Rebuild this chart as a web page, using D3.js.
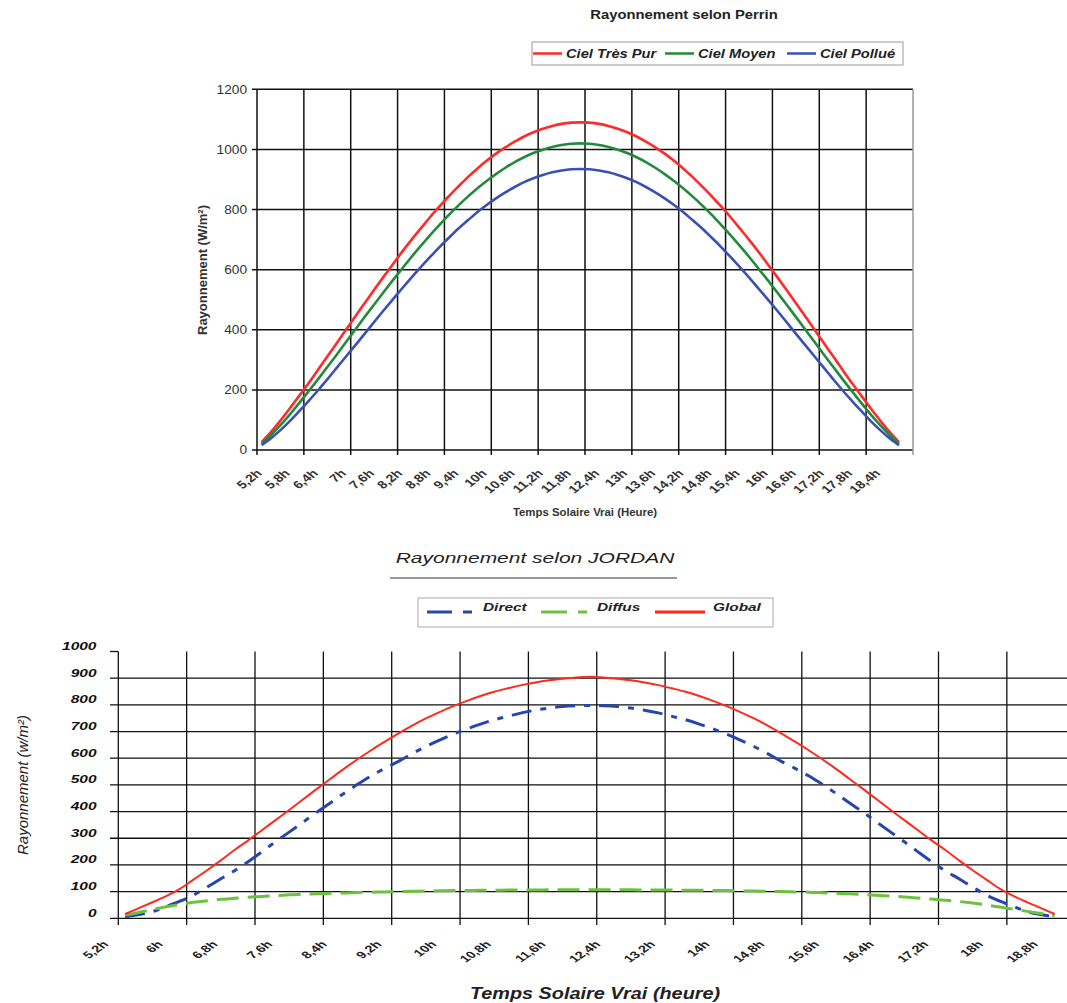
<!DOCTYPE html>
<html><head><meta charset="utf-8">
<script src="https://cdn.jsdelivr.net/npm/d3@7"></script>
<style>
body{margin:0;background:#fff}
text{font-family:"Liberation Sans",Arial,sans-serif;fill:#1a1a1a}
</style>
</head><body>
<svg id="c" width="1067" height="1003"></svg>
<script>
// ---------- DATA ----------
const hours = [5.2,5.4,5.6,5.8,6,6.2,6.4,6.6,6.8,7,7.2,7.4,7.6,7.8,8,8.2,8.4,8.6,8.8,9,9.2,9.4,9.6,9.8,10,10.2,10.4,10.6,10.8,11,11.2,11.4,11.6,11.8,12,12.2,12.4,12.6,12.8,13,13.2,13.4,13.6,13.8,14,14.2,14.4,14.6,14.8,15,15.2,15.4,15.6,15.8,16,16.2,16.4,16.6,16.8,17,17.2,17.4,17.6,17.8,18,18.2,18.4,18.6,18.8];

// Perrin (W/m²)
const cielTresPur = [26,60,98,138,180,222,266,311,355,400,445,489,533,576,618,660,700,738,776,811,845,877,908,936,962,986,1007,1026,1043,1057,1069,1078,1085,1089,1090,1089,1085,1078,1069,1057,1043,1026,1007,986,962,936,908,877,845,811,776,738,700,660,618,576,533,489,445,400,355,311,266,222,180,138,98,60,26];
const cielMoyen = [21,50,83,118,156,195,235,276,317,359,401,443,484,525,565,604,643,680,716,750,783,814,843,870,895,918,939,958,974,988,999,1008,1015,1019,1020,1019,1015,1008,999,988,974,958,939,918,895,870,843,814,783,750,716,680,643,604,565,525,484,443,401,359,317,276,235,195,156,118,83,50,21];
const cielPollue = [16,39,66,96,129,163,198,235,273,311,349,387,426,464,501,538,574,609,643,676,707,737,764,791,815,837,857,875,891,904,915,924,930,934,935,934,930,924,915,904,891,875,857,837,815,791,764,737,707,676,643,609,574,538,501,464,426,387,349,311,273,235,198,163,129,96,66,39,16];

// Jordan (W/m²)
const direct = [6,14,25,44,64,87,117,148,178,212,249,287,323,360,397,432,468,502,534,562,588,617,644,668,690,710,728,744,757,770,780,788,794,797,798,797,794,788,780,770,757,744,728,710,690,668,644,617,588,562,534,502,468,432,397,360,323,287,249,212,178,148,117,87,64,44,25,14,6];
const diffus = [12,22,33,43,52,60,66,71,75,79,82,85,88,90,92,94,95,97,98,99,100,101,102,103,104,104,105,105,106,106,106,107,107,107,107,107,107,107,106,106,106,105,105,104,104,103,102,101,100,99,98,96,94,92,89,86,83,80,76,72,68,63,57,50,42,34,26,18,10];
const global = [16,38,60,83,110,145,180,217,256,292,330,368,406,445,484,522,560,596,630,662,693,722,749,773,795,815,833,849,862,874,884,892,898,903,905,903,898,892,884,874,862,849,833,815,795,773,749,722,693,662,630,596,560,522,484,445,406,368,330,292,256,217,180,145,110,83,60,38,16];

const perrinTicksY = [0,200,400,600,800,1000,1200];
const jordanTicksY = [0,100,200,300,400,500,600,700,800,900,1000];
const perrinTickLabels = ["5,2h","5,8h","6,4h","7h","7,6h","8,2h","8,8h","9,4h","10h","10,6h","11,2h","11,8h","12,4h","13h","13,6h","14,2h","14,8h","15,4h","16h","16,6h","17,2h","17,8h","18,4h"];
const jordanTickLabels = ["5,2h","6h","6,8h","7,6h","8,4h","9,2h","10h","10,8h","11,6h","12,4h","13,2h","14h","14,8h","15,6h","16,4h","17,2h","18h","18,8h"];

const perrinSeries = [
  {name:"Ciel Très Pur", values:cielTresPur, color:"#ff2b2b"},
  {name:"Ciel Moyen", values:cielMoyen, color:"#238a3c"},
  {name:"Ciel Pollué", values:cielPollue, color:"#3a50b4"}
];
const jordanSeries = [
  {name:"Direct", values:direct, color:"#2446ae", dash:"20,9,6,9", w:3},
  {name:"Diffus", values:diffus, color:"#6cc23e", dash:"22,9", w:3},
  {name:"Global", values:global, color:"#ff2a1c", dash:null, w:2}
];

// ---------- HELPERS ----------
const svg = d3.select("#c");
const nCat = 70; // axis categories (last one empty)
const idx = h => Math.round((h - 5.2) / 0.2);
const parseLab = s => parseFloat(s.replace("h","").replace(",", "."));

function txt(g, x, y, s, o) {
  o = o || {};
  let tr = `translate(${x},${y})`;
  if (o.sx) tr += ` scale(${o.sx},1)`;
  if (o.rot) tr += ` rotate(${o.rot})`;
  return g.append("text").attr("transform", tr)
    .attr("text-anchor", o.anchor || "start")
    .attr("dy", o.dy || 0)
    .style("font-size", (o.size || 12) + "px")
    .style("font-weight", o.bold ? "bold" : "normal")
    .style("font-style", o.italic ? "italic" : "normal")
    .style("fill", o.fill || "#1a1a1a")
    .text(s);
}

// ---------- CHART 1 : PERRIN ----------
(function(){
  const g = svg.append("g");
  const x = d3.scaleBand().domain(d3.range(nCat)).range([257, 913]);
  const bw = x.bandwidth();
  const xc = i => x(i) + bw / 2;
  const y = d3.scaleLinear().domain([0, 1200]).range([450, 89.3]);

  // horizontal grid + y ticks
  perrinTicksY.forEach(v => {
    g.append("line").attr("x1", 252).attr("x2", 913).attr("y1", y(v)).attr("y2", y(v))
      .attr("stroke", "#111").attr("stroke-width", 1.5);
    txt(g, 247, y(v), String(v), {anchor:"end", dy:"0.36em", size:12, sx:1.14, fill:"#333"});
  });
  // vertical grid every 5 categories
  for (let k = 0; k < 14; k++) {
    const xx = x(k * 5);
    g.append("line").attr("x1", xx).attr("x2", xx).attr("y1", y(1200)).attr("y2", 455)
      .attr("stroke", "#111").attr("stroke-width", 1.5);
  }
  // right border
  g.append("line").attr("x1", 913).attr("x2", 913).attr("y1", y(1200)).attr("y2", 455)
    .attr("stroke", "#999").attr("stroke-width", 1.5);

  // series
  const line = d3.line().x((d, i) => xc(i)).y(d => y(d)).curve(d3.curveMonotoneX);
  perrinSeries.forEach(s => {
    g.append("path").datum(s.values).attr("d", line).attr("fill", "none")
      .attr("stroke", s.color).attr("stroke-width", 2.6);
  });

  // x tick labels
  perrinTickLabels.forEach(l => {
    const i = idx(parseLab(l));
    txt(g, xc(i) + 1, 474, l, {anchor:"end", size:11, bold:true, sx:1.3, rot:-45, fill:"#333"});
  });

  // titles
  txt(g, 684, 19, "Rayonnement selon Perrin", {anchor:"middle", size:13, bold:true, sx:1.14, fill:"#222"});
  txt(g, 585, 516, "Temps Solaire Vrai (Heure)", {anchor:"middle", size:10, bold:true, sx:1.14, fill:"#333"});
  txt(g, 207, 270, "Rayonnement (W/m²)", {anchor:"middle", size:13, bold:true, rot:-90, fill:"#333"});

  // legend
  const lg = g.append("g");
  lg.append("rect").attr("x", 532).attr("y", 42).attr("width", 371).attr("height", 23)
    .attr("fill", "#fff").attr("stroke", "#999").attr("stroke-width", 1);
  const lx = [533, 665, 787];
  perrinSeries.forEach((s, i) => {
    lg.append("line").attr("x1", lx[i]).attr("x2", lx[i] + 29).attr("y1", 53.5).attr("y2", 53.5)
      .attr("stroke", s.color).attr("stroke-width", 2.5);
    txt(lg, lx[i] + 33, 58.3, s.name, {size:13, bold:true, italic:true, sx:1.13, fill:"#222"});
  });
})();

// ---------- CHART 2 : JORDAN ----------
(function(){
  const g = svg.append("g");
  const x = d3.scaleBand().domain(d3.range(nCat)).range([118.3, 118.3 + 70 * 13.67]);
  const bw = x.bandwidth();
  const xc = i => x(i) + bw / 2;
  const y = d3.scaleLinear().domain([0, 1000]).range([918.3, 651.5]);

  jordanTicksY.forEach(v => {
    if (v < 1000) {
      g.append("line").attr("x1", 110).attr("x2", 1080).attr("y1", y(v)).attr("y2", y(v))
        .attr("stroke", "#111").attr("stroke-width", 1.3);
    } else {
      g.append("line").attr("x1", 110).attr("x2", 118.3).attr("y1", y(v)).attr("y2", y(v))
        .attr("stroke", "#111").attr("stroke-width", 1.3);
    }
    txt(g, 96.5, y(v) - 1.5, String(v), {anchor:"end", size:10, bold:true, italic:true, sx:1.55, fill:"#111"});
  });
  for (let k = 0; k < 14; k++) {
    const xx = x(k * 5);
    g.append("line").attr("x1", xx).attr("x2", xx).attr("y1", y(1000)).attr("y2", 925)
      .attr("stroke", "#111").attr("stroke-width", 1.3);
  }

  const line = d3.line().x((d, i) => xc(i)).y(d => y(d)).curve(d3.curveMonotoneX);
  jordanSeries.forEach(s => {
    const p = g.append("path").datum(s.values).attr("d", line).attr("fill", "none")
      .attr("stroke", s.color).attr("stroke-width", s.w);
    if (s.dash) p.attr("stroke-dasharray", s.dash);
  });

  jordanTickLabels.forEach(l => {
    const i = idx(parseLab(l));
    txt(g, xc(i) - 16, 945, l, {anchor:"end", size:10, bold:true, sx:1.45, rot:-45, fill:"#222"});
  });

  // titles
  txt(g, 535, 563, "Rayonnement selon JORDAN", {anchor:"middle", size:14, italic:true, sx:1.5, fill:"#222"});
  g.append("line").attr("x1", 390).attr("x2", 677).attr("y1", 578).attr("y2", 578)
    .attr("stroke", "#333").attr("stroke-width", 1.2);
  txt(g, 595, 999, "Temps Solaire Vrai (heure)", {anchor:"middle", size:16, bold:true, italic:true, sx:1.24, fill:"#222"});
  txt(g, 28, 785, "Rayonnement (w/m²)", {anchor:"middle", size:15, italic:true, rot:-90, fill:"#222"});

  // legend
  const lg = g.append("g");
  lg.append("rect").attr("x", 418).attr("y", 598).attr("width", 355).attr("height", 29)
    .attr("fill", "#fff").attr("stroke", "#aaa").attr("stroke-width", 1);
  const lx = [427, 541, 655];
  const tx = [483, 597, 713];
  jordanSeries.forEach((s, i) => {
    const ln = lg.append("line").attr("x1", lx[i]).attr("x2", lx[i] + (s.dash ? 46 : 50))
      .attr("y1", 612).attr("y2", 612).attr("stroke", s.color).attr("stroke-width", 3);
    if (s.dash) ln.attr("stroke-dasharray", i === 0 ? "25,11,9,11" : "26,11,11,11");
    txt(lg, tx[i], 611, s.name, {size:11, bold:true, italic:true, sx:1.4, fill:"#222"});
  });
})();
</script>
</body></html>
